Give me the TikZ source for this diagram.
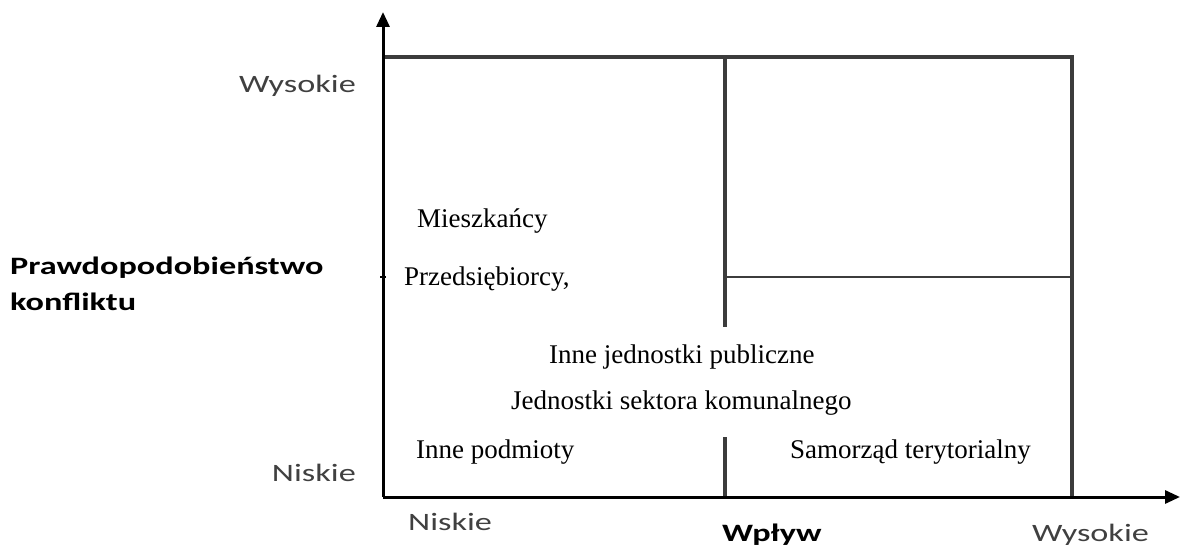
\documentclass[tikz,border=0pt]{standalone}
\usepackage{fontspec}
\setmainfont{Liberation Serif}
\newfontfamily\axisfont[FakeStretch=1.37]{Carlito}
\usetikzlibrary{arrows.meta}
\definecolor{gridgray}{HTML}{3C3C3C}
\definecolor{labelgray}{HTML}{404040}
\tikzset{
  axis/.style={line width=3pt, black, -{Triangle[width=13pt,length=15pt]}},
  gridline/.style={line width=3.4pt, gridgray},
  axislabel/.style={font=\axisfont\fontsize{25}{30}\selectfont, text=labelgray, inner sep=0pt},
  axistitle/.style={font=\axisfont\bfseries\fontsize{25}{30}\selectfont, text=black, inner sep=0pt},
  actor/.style={font=\fontsize{27}{32}\selectfont, inner sep=0pt, anchor=base west}
}
\begin{document}
\begin{tikzpicture}[x=1pt, y=-1pt]
    \useasboundingbox (0,0) rectangle (1180,545);
    % quadrant frame
    \draw[gridline] (383,57) -- (1072,57) -- (1072,497);
    \draw[gridline] (725,57) -- (725,327);
    \draw[gridline] (725,437) -- (725,497);
    \draw[gridline, line width=2.4pt] (725,277) -- (1072,277);
    \draw[line width=1.2pt] (380,277) -- (386,277);
    % axes
    \draw[axis] (383,497) -- (383,12);
    \draw[axis] (383,497) -- (1180,497);
    % axis labels
    \node[axislabel, anchor=base east] (yhigh) at (356,93) {Wysokie};
    \node[axislabel, anchor=base east] (ylow) at (356,481) {Niskie};
    \node[axistitle, anchor=base west] (ytitle) at (10,275) {Prawdopodobieństwo};
    \node[axistitle, anchor=base west] (ytitle2) at (10,310) {konfliktu};
    \node[axislabel, anchor=base west] (xlow) at (408,530) {Niskie};
    \node[axistitle, anchor=base west] (xtitle) at (722,541) {Wpływ};
    \node[axislabel, anchor=base west] (xhigh) at (1032,541) {Wysokie};
    % stakeholders
    \node[actor] (mieszk) at (417,228) {Mieszkańcy};
    \node[actor] (przeds) at (404,285) {Przedsiębiorcy,};
    \node[actor] (innepub) at (549,363) {Inne jednostki publiczne};
    \node[actor] (komun) at (511,409) {Jednostki sektora komunalnego};
    \node[actor] (innepod) at (416,458) {Inne podmioty};
    \node[actor] (samorz) at (790,458) {Samorząd terytorialny};
\end{tikzpicture}
\end{document}
